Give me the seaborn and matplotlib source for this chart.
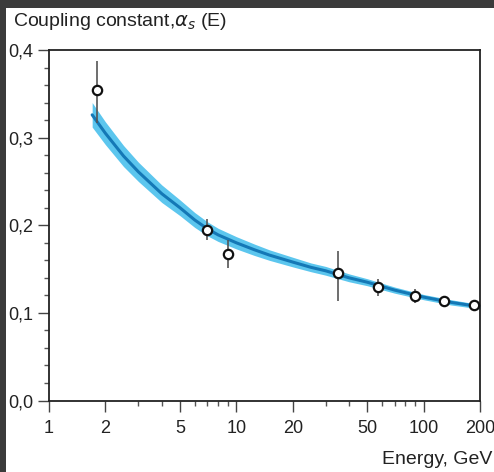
import numpy as np
import matplotlib
matplotlib.use('Agg')
import matplotlib.pyplot as plt
import seaborn as sns
from matplotlib.ticker import FixedLocator, FuncFormatter, MultipleLocator, NullFormatter
from matplotlib.patches import Rectangle

# fitted running coupling and its band half-width
energy_fit = [1.70, 2.0, 2.5, 3.0, 4.0, 5.0, 6.0, 7.0, 8.0, 10, 12.5, 15, 20, 25, 30,
              40, 50, 70, 100, 140, 200]
alpha_fit = [0.326, 0.305, 0.279, 0.261, 0.236, 0.220, 0.206, 0.196, 0.189, 0.180, 0.172,
             0.166, 0.158, 0.152, 0.148, 0.140, 0.135, 0.126, 0.118, 0.112, 0.107]
band_half = [0.014, 0.013, 0.012, 0.011, 0.010, 0.009, 0.0085, 0.008, 0.0075, 0.007, 0.0065,
             0.006, 0.0055, 0.005, 0.005, 0.0045, 0.004, 0.0035, 0.003, 0.003, 0.0025]

# measurements
energy_pts = [1.81, 6.98, 9.06, 35.1, 56.8, 89.5, 129, 185]
alpha_pts = [0.354, 0.195, 0.167, 0.145, 0.129, 0.119, 0.113, 0.109]
err_up = [0.033, 0.012, 0.016, 0.026, 0.010, 0.008, 0.006, 0.003]
err_dn = [0.037, 0.012, 0.016, 0.032, 0.010, 0.008, 0.006, 0.003]

x_major = [1, 2, 5, 10, 20, 50, 100, 200]
x_minor = [3, 4, 6, 7, 8, 9, 30, 40, 60, 70, 80, 90]

sns.set_style('ticks')
plt.rcParams['font.family'] = ['Liberation Sans', 'DejaVu Sans']
plt.rcParams['mathtext.fontset'] = 'dejavusans'

fig = plt.figure(figsize=(4.94, 4.72), dpi=100)
fig.patch.set_facecolor('#3b3b3b')
fig.add_artist(Rectangle((6 / 494, 0), 1, 1 - 8 / 472, transform=fig.transFigure,
                         facecolor='white', edgecolor='none', zorder=0))
ax = fig.add_axes([49 / 494, 1 - 400.5 / 472, 431 / 494, 350.5 / 472])
ax.set_facecolor('white')

lo = np.array(alpha_fit) - np.array(band_half)
hi = np.array(alpha_fit) + np.array(band_half)
ax.fill_between(energy_fit, lo, hi, color='#5cc6ee', lw=0, zorder=1)
sns.lineplot(x=energy_fit, y=alpha_fit, color='#1478b6', lw=2.2, ax=ax, zorder=2)

ax.errorbar(energy_pts, alpha_pts, yerr=[err_dn, err_up], fmt='none',
            ecolor='#555555', elinewidth=1.2, capsize=0, zorder=3)
sns.scatterplot(x=energy_pts, y=alpha_pts, s=45, facecolor='white', edgecolor='#111111',
                linewidth=1.6, zorder=5, ax=ax, clip_on=False)

ax.set_xscale('log')
ax.set_xlim(1, 200)
ax.set_ylim(0, 0.4)
ax.xaxis.set_major_locator(FixedLocator(x_major))
ax.xaxis.set_major_formatter(FuncFormatter(lambda v, p: f'{v:g}'))
ax.xaxis.set_minor_locator(FixedLocator(x_minor))
ax.xaxis.set_minor_formatter(NullFormatter())
ax.yaxis.set_major_locator(MultipleLocator(0.1))
ax.yaxis.set_minor_locator(MultipleLocator(0.02))
ax.yaxis.set_major_formatter(FuncFormatter(lambda v, p: f'{v:.1f}'.replace('.', ',')))
ax.tick_params(which='major', direction='out', length=8, width=1, color='#444444',
               labelsize=13, labelcolor='#222222')
ax.tick_params(axis='y', which='major', pad=3)
ax.tick_params(axis='x', which='major', pad=6)
ax.tick_params(which='minor', direction='out', length=3.5, width=1, color='#555555')
for s in ax.spines.values():
    s.set_linewidth(1.3)
    s.set_color('#222222')
ax.set_xlabel('')
ax.set_ylabel('')

fig.text(13 / 494, 1 - 22 / 472, 'Coupling constant,$\\alpha_s$ (E)', fontsize=14,
         ha='left', va='center', color='#222222')
fig.text(492 / 494, 1 - 460 / 472, 'Energy, GeV', fontsize=14, ha='right', va='center',
         color='#222222')

fig.savefig('out.png', dpi=100, facecolor=fig.get_facecolor())
